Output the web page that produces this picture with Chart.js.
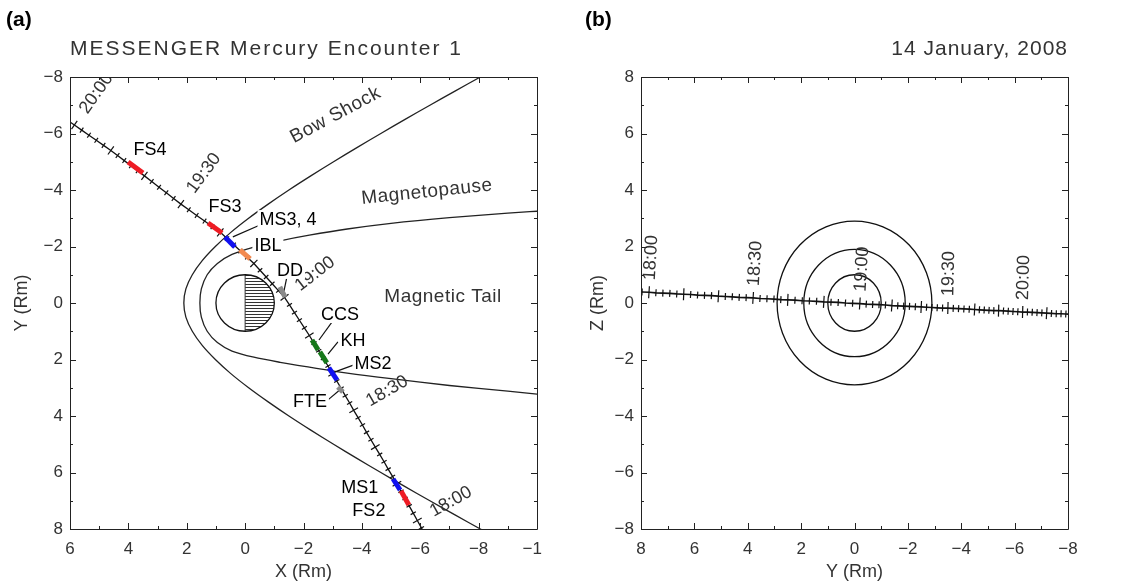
<!DOCTYPE html>
<html>
<head>
<meta charset="utf-8">
<script src="https://cdn.jsdelivr.net/npm/chart.js@4.4.1/dist/chart.umd.min.js"></script>
<style>
  html, body { margin: 0; padding: 0; background: #fff; }
  #wrap { position: relative; width: 1131px; height: 587px; overflow: hidden; }
  #cA { position: absolute; left: 0; top: 0; }
  #cB { position: absolute; left: 560px; top: 0; }
</style>
</head>
<body>
<div id="wrap">
  <canvas id="cA" width="542" height="587"></canvas>
  <canvas id="cB" width="571" height="587"></canvas>
</div>
<script>
/* globals Chart:false */
(function () {
    'use strict'

    // spacecraft position every 2 minutes (Rm)
    const times = ['17:56', '17:58',
        '18:00', '18:02', '18:04', '18:06', '18:08', '18:10', '18:12', '18:14', '18:16', '18:18',
        '18:20', '18:22', '18:24', '18:26', '18:28', '18:30', '18:32', '18:34', '18:36', '18:38',
        '18:40', '18:42', '18:44', '18:46', '18:48', '18:50', '18:52', '18:54', '18:56', '18:58',
        '19:00', '19:02', '19:04', '19:06', '19:08', '19:10', '19:12', '19:14', '19:16', '19:18',
        '19:20', '19:22', '19:24', '19:26', '19:28', '19:30', '19:32', '19:34', '19:36', '19:38',
        '19:40', '19:42', '19:44', '19:46', '19:48', '19:50', '19:52', '19:54', '19:56', '19:58',
        '20:00', '20:02', '20:04', '20:06', '20:08', '20:10', '20:12', '20:14', '20:16', '20:18',
        '20:20'];
    const trajX = [-6.18, -6.04,
        -5.90, -5.76, -5.62, -5.48, -5.34, -5.20, -5.05, -4.90, -4.76, -4.61,
        -4.46, -4.31, -4.16, -4.02, -3.87, -3.72, -3.58, -3.43, -3.29, -3.14,
        -3.00, -2.84, -2.68, -2.52, -2.36, -2.20, -2.03, -1.86, -1.69, -1.52,
        -1.35, -1.14, -0.93, -0.72, -0.51, -0.30, -0.07, 0.16, 0.39, 0.62,
        0.85, 1.12, 1.39, 1.66, 1.93, 2.20, 2.45, 2.70, 2.95, 3.20,
        3.45, 3.68, 3.91, 4.14, 4.37, 4.60, 4.85, 5.10, 5.35, 5.60,
        5.85, 6.10, 6.35, 6.60, 6.85, 7.10, 7.34, 7.58, 7.82, 8.06,
        8.30];
    const trajY = [8.22, 7.96,
        7.70, 7.44, 7.18, 6.92, 6.66, 6.40, 6.14, 5.88, 5.62, 5.36,
        5.10, 4.84, 4.58, 4.32, 4.06, 3.80, 3.54, 3.28, 3.02, 2.76,
        2.50, 2.23, 1.96, 1.69, 1.42, 1.15, 0.88, 0.61, 0.34, 0.07,
        -0.20, -0.44, -0.68, -0.92, -1.16, -1.40, -1.62, -1.84, -2.06, -2.28,
        -2.50, -2.70, -2.90, -3.10, -3.30, -3.50, -3.70, -3.90, -4.10, -4.30,
        -4.50, -4.68, -4.86, -5.04, -5.22, -5.40, -5.58, -5.76, -5.94, -6.12,
        -6.30, -6.48, -6.66, -6.84, -7.02, -7.20, -7.38, -7.56, -7.74, -7.92,
        -8.10];
    const trajZ = [0.40, 0.39,
        0.38, 0.36, 0.35, 0.34, 0.32, 0.31, 0.30, 0.28, 0.27, 0.26,
        0.24, 0.23, 0.22, 0.20, 0.19, 0.18, 0.16, 0.15, 0.14, 0.12,
        0.11, 0.10, 0.08, 0.07, 0.06, 0.04, 0.03, 0.02, 0.00, -0.01,
        -0.02, -0.04, -0.05, -0.06, -0.07, -0.09, -0.10, -0.11, -0.12, -0.13,
        -0.14, -0.15, -0.16, -0.17, -0.18, -0.18, -0.19, -0.20, -0.21, -0.22,
        -0.23, -0.24, -0.25, -0.26, -0.27, -0.27, -0.28, -0.29, -0.30, -0.31,
        -0.32, -0.32, -0.33, -0.34, -0.35, -0.36, -0.37, -0.38, -0.38, -0.39,
        -0.40];
    const timeLabels = ['18:00', '18:30', '19:00', '19:30', '20:00'];

    // model boundaries in the X-Y plane
    const bowX = [-8.93, -8.06, -7.19, -6.33, -5.48, -4.65, -3.83, -3.03, -2.25, -1.50,
        -0.79, -0.12, 0.49, 1.02, 1.47, 1.81, 2.03, 2.10, 2.03, 1.81, 1.47, 1.02, 0.49,
        -0.12, -0.79, -1.50, -2.25, -3.03, -3.83, -4.65, -5.48, -6.33, -7.19, -8.06, -8.93];
    const bowY = [-8.5, -8.0, -7.5, -7.0, -6.5, -6.0, -5.5, -5.0, -4.5, -4.0,
        -3.5, -3.0, -2.5, -2.0, -1.5, -1.0, -0.5, 0, 0.5, 1.0, 1.5, 2.0, 2.5,
        3.0, 3.5, 4.0, 4.5, 5.0, 5.5, 6.0, 6.5, 7.0, 7.5, 8.0, 8.5];
    const mpX = [-10.5, -9.0, -7.0, -5.0, -3.5, -2.2, -1.2, -0.3, 0.45, 0.95, 1.3, 1.5, 1.55,
        1.5, 1.3, 0.95, 0.45, -0.3, -1.2, -2.2, -3.5, -5.0, -7.0, -9.0, -10.5];
    const mpY = [-3.28, -3.18, -3.02, -2.82, -2.62, -2.40, -2.20, -1.98, -1.72, -1.40, -1.0, -0.5, 0,
        0.5, 1.0, 1.40, 1.70, 1.92, 2.10, 2.27, 2.48, 2.68, 2.92, 3.12, 3.28];
    const planetRadius = 1;
    const shellRadii = [1.0, 1.9, 2.9];

    // boundary / event intervals along the orbit
    const eventNames = ['FS2', 'MS1', 'FTE', 'MS2', 'KH', 'CCS', 'DD', 'IBL', 'MS3, 4', 'FS3', 'FS4'];
    const eventColors = ['#ee1c24', '#1010f0', '#8a8a8a', '#1010f0', '#16781a', '#16781a',
        '#8a8a8a', '#f28a50', '#1010f0', '#ee1c24', '#ee1c24'];
    const eventX0 = [-5.34, -5.07, -3.18, -2.87, -2.56, -2.29, -1.19, 0.18, 0.69, 1.27, 4.01];
    const eventY0 = [6.65, 6.23, 2.97, 2.30, 1.73, 1.31, -0.57, -1.88, -2.34, -2.83, -4.99];
    const eventX1 = [-5.61, -5.31, -3.35, -3.15, -2.80, -2.50, -1.37, -0.17, 0.35, 0.79, 3.50];
    const eventY1 = [7.15, 6.62, 3.15, 2.73, 2.12, 1.66, -0.21, -1.56, -1.98, -2.48, -4.60];
    const labelX = [-4.24, -3.93, -2.22, -4.38, -3.70, -3.25, -1.54, -0.78, -1.47, 0.69, 3.26];
    const labelY = [7.33, 6.51, 3.47, 2.12, 1.31, 0.39, -1.17, -2.05, -2.97, -3.43, -5.45];
    const leaderX0 = [null, null, -2.84, -3.73, -3.18, -2.98, -1.43, null, -0.51, null, null];
    const leaderY0 = [null, null, 3.43, 2.19, 1.38, 0.67, -0.92, null, -2.76, null, null];
    const leaderX1 = [null, null, -3.32, -3.15, -2.84, -2.53, -1.33, null, 0.42, null, null];
    const leaderY1 = [null, null, 3.01, 2.41, 1.81, 1.31, -0.42, null, -2.34, null, null];

    const regionNames = ['Bow Shock', 'Magnetopause', 'Magnetic Tail'];
    const regionX = [-3.1, -6.23, -6.78];
    const regionY = [-6.65, -3.93, -0.21];
    const regionRot = [-28, -6, 0];

    const FONT = '"Liberation Sans", Arial, sans-serif';
    const INK = '#333';
    Chart.defaults.font.family = FONT;
    Chart.defaults.color = INK;

    function pts(xs, ys) {
        return xs.map((v, i) => ({ x: v, y: ys[i] }));
    }
    function minus(v) {
        return v < 0 ? '\u2212' + Math.abs(v) : String(v);
    }
    function isMajor(t) {
        return t.slice(-1) === '0';
    }
    // screen direction of the orbit at point i (time increasing)
    function dir(chart, data, i) {
        const xs = chart.scales.x, ys = chart.scales.y;
        const a = data[Math.max(i - 1, 0)], b = data[Math.min(i + 1, data.length - 1)];
        const dx = xs.getPixelForValue(b.x) - xs.getPixelForValue(a.x);
        const dy = ys.getPixelForValue(b.y) - ys.getPixelForValue(a.y);
        const n = Math.hypot(dx, dy) || 1;
        return [dx / n, dy / n];
    }

    function orbitDataset(data, major, minor, width) {
        return {
            label: 'orbit',
            data: data,
            showLine: true,
            borderColor: '#111',
            borderWidth: width,
            pointStyle: 'line',
            pointBorderColor: '#111',
            pointBorderWidth: 1.2,
            pointRadius: ctx => isMajor(times[ctx.dataIndex]) ? major : minor,
            pointRotation: ctx => {
                const d = dir(ctx.chart, ctx.dataset.data, ctx.dataIndex);
                return Math.atan2(d[1], d[0]) * 180 / Math.PI + 90;
            },
            order: 2,
            clip: 0
        };
    }

    function axis(min, max, reverse, title, isX, size, titlePad) {
        return {
            type: 'linear', min: min, max: max, reverse: reverse,
            ticks: {
                stepSize: 2, callback: minus, autoSkip: false, maxRotation: 0,
                padding: isX ? 10 : 7, color: INK, font: { size: 17, family: FONT }
            },
            grid: { display: false, drawTicks: false },
            border: { display: false },
            title: {
                display: true, text: title, color: INK,
                font: { size: 18, family: FONT }, padding: titlePad
            },
            afterFit: s => {
                if (isX) s.height = size; else s.width = size;
                s.paddingLeft = 0; s.paddingRight = 0; s.paddingTop = 0; s.paddingBottom = 0;
            }
        };
    }

    // box, inward ticks on all four sides, headings
    const framePlugin = {
        id: 'frame',
        afterDraw(chart, args, opts) {
            const { ctx, chartArea: ca, scales: { x, y } } = chart;
            ctx.save();
            ctx.strokeStyle = '#222';
            ctx.lineWidth = 1;
            ctx.beginPath();
            ctx.rect(Math.round(ca.left) + 0.5, Math.round(ca.top) + 0.5,
                Math.round(ca.right - ca.left), Math.round(ca.bottom - ca.top));
            const xlo = Math.min(x.min, x.max), xhi = Math.max(x.min, x.max);
            for (let v = xlo; v <= xhi; v++) {
                const p = Math.round(x.getPixelForValue(v)) + 0.5;
                const len = v % 2 === 0 ? 6 : 3;
                ctx.moveTo(p, ca.bottom); ctx.lineTo(p, ca.bottom - len);
                ctx.moveTo(p, ca.top); ctx.lineTo(p, ca.top + len);
            }
            const ylo = Math.min(y.min, y.max), yhi = Math.max(y.min, y.max);
            for (let v = ylo; v <= yhi; v++) {
                const p = Math.round(y.getPixelForValue(v)) + 0.5;
                const len = v % 2 === 0 ? 6 : 3;
                ctx.moveTo(ca.left, p); ctx.lineTo(ca.left + len, p);
                ctx.moveTo(ca.right, p); ctx.lineTo(ca.right - len, p);
            }
            ctx.stroke();

            ctx.fillStyle = '#000';
            ctx.font = 'bold 21px Arial, "Liberation Sans", sans-serif';
            ctx.textAlign = 'left';
            ctx.textBaseline = 'middle';
            ctx.fillText(opts.panel, opts.panelX, 20);

            ctx.fillStyle = INK;
            ctx.font = '21px ' + FONT;
            ctx.letterSpacing = opts.spacing;
            ctx.textAlign = opts.titleAlign;
            ctx.fillText(opts.title, opts.titleAlign === 'left' ? ca.left : ca.right, 49);
            ctx.restore();
        }
    };

    // time tags beside the orbit, perpendicular to it
    const timeTagPlugin = {
        id: 'timeTags',
        afterDatasetsDraw(chart, args, opts) {
            const { ctx, chartArea: ca, scales: { x, y } } = chart;
            const data = chart.data.datasets.find(d => d.label === 'orbit').data;
            ctx.save();
            ctx.beginPath();
            ctx.rect(ca.left, ca.top, ca.right - ca.left, ca.bottom - ca.top);
            ctx.clip();
            ctx.font = '18px ' + FONT;
            ctx.fillStyle = INK;
            ctx.textAlign = 'left';
            ctx.textBaseline = 'middle';
            timeLabels.forEach(t => {
                const i = times.indexOf(t);
                const d = dir(chart, data, i);
                const nx = -d[1] * opts.sign, ny = d[0] * opts.sign;
                const px = x.getPixelForValue(data[i].x), py = y.getPixelForValue(data[i].y);
                ctx.save();
                ctx.translate(px + nx * opts.gap, py + ny * opts.gap);
                ctx.rotate(Math.atan2(ny, nx));
                ctx.fillText(t, 0, 0);
                ctx.restore();
            });
            ctx.restore();
        }
    };

    // Mercury with hatched night side
    const planetPlugin = {
        id: 'planet',
        beforeDatasetsDraw(chart) {
            const { ctx, scales: { x, y } } = chart;
            const cx = x.getPixelForValue(0), cy = y.getPixelForValue(0);
            const night = x.getPixelForValue(-planetRadius);
            const rx = Math.abs(night - cx);
            const ry = Math.abs(y.getPixelForValue(planetRadius) - cy);
            ctx.save();
            ctx.beginPath();
            ctx.ellipse(cx, cy, rx, ry, 0, 0, 2 * Math.PI);
            ctx.fillStyle = '#fff';
            ctx.fill();
            ctx.save();
            ctx.clip();
            ctx.strokeStyle = '#333';
            ctx.lineWidth = 1;
            ctx.beginPath();
            for (let yy = Math.round(cy - ry) + 0.5; yy <= cy + ry; yy += 3) {
                ctx.moveTo(cx, yy); ctx.lineTo(night, yy);
            }
            ctx.moveTo(cx, cy - ry); ctx.lineTo(cx, cy + ry);
            ctx.stroke();
            ctx.restore();
            ctx.beginPath();
            ctx.ellipse(cx, cy, rx, ry, 0, 0, 2 * Math.PI);
            ctx.strokeStyle = '#111';
            ctx.lineWidth = 1.3;
            ctx.stroke();
            ctx.restore();
        }
    };

    // event names with leaders, region names
    const notePlugin = {
        id: 'notes',
        afterDatasetsDraw(chart) {
            const { ctx, scales: { x, y } } = chart;
            ctx.save();
            ctx.fillStyle = INK;
            ctx.textBaseline = 'middle';
            ctx.textAlign = 'center';
            regionNames.forEach((t, i) => {
                ctx.save();
                ctx.translate(x.getPixelForValue(regionX[i]), y.getPixelForValue(regionY[i]));
                ctx.rotate(regionRot[i] * Math.PI / 180);
                ctx.font = '19px ' + FONT;
                ctx.letterSpacing = '0.5px';
                ctx.fillText(t, 0, 0);
                ctx.restore();
            });
            eventNames.forEach((t, i) => {
                const px = x.getPixelForValue(labelX[i]), py = y.getPixelForValue(labelY[i]);
                ctx.font = '18px Arial, ' + FONT;
                const w = ctx.measureText(t).width;
                ctx.fillStyle = '#fff';
                ctx.fillRect(px - w / 2 - 2, py - 9, w + 4, 18);
                ctx.fillStyle = '#000';
                ctx.fillText(t, px, py + 1);
            });
            ctx.restore();
        }
    };

    const dsA = [];
    eventNames.forEach((n, i) => {
        dsA.push({
            label: n,
            data: [{ x: eventX0[i], y: eventY0[i] }, { x: eventX1[i], y: eventY1[i] }],
            showLine: true, borderColor: eventColors[i], borderWidth: 5,
            borderCapStyle: 'butt', pointRadius: 0, order: 0, clip: 0
        });
        if (leaderX0[i] !== null) {
            dsA.push({
                label: n + ' leader',
                data: [{ x: leaderX0[i], y: leaderY0[i] }, { x: leaderX1[i], y: leaderY1[i] }],
                showLine: true, borderColor: '#111', borderWidth: 1.2,
                pointRadius: 0, order: 1, clip: 0
            });
        }
    });
    dsA.push(orbitDataset(pts(trajX, trajY), 5, 3, 1.3));
    dsA.push({
        label: 'Bow Shock', data: pts(bowX, bowY), showLine: true,
        borderColor: '#222', borderWidth: 1.3, tension: 0.3, pointRadius: 0, order: 3, clip: 0
    });
    dsA.push({
        label: 'Magnetopause', data: pts(mpX, mpY), showLine: true,
        borderColor: '#222', borderWidth: 1.3, tension: 0.3, pointRadius: 0, order: 3, clip: 0
    });

    new Chart(document.getElementById('cA'), {
        type: 'scatter',
        data: { datasets: dsA },
        options: {
            responsive: false,
            animation: false,
            events: [],
            layout: { padding: { left: 0, top: 77, right: 5, bottom: 0 }, autoPadding: false },
            elements: { line: { capBezierPoints: false } },
            scales: {
                x: axis(-10, 6, true, 'X (Rm)', true, 58, { top: 0, bottom: 4 }),
                y: axis(-8, 8, true, 'Y (Rm)', false, 70, { top: 11, bottom: 0 })
            },
            plugins: {
                legend: { display: false },
                tooltip: { enabled: false },
                frame: { panel: '(a)', panelX: 6, title: 'MESSENGER Mercury Encounter 1', titleAlign: 'left', spacing: '2px' },
                timeTags: { sign: 1, gap: 16 }
            }
        },
        plugins: [planetPlugin, framePlugin, timeTagPlugin, notePlugin]
    });

    // shells around Mercury in the Y-Z plane
    const shellPlugin = {
        id: 'shells',
        beforeDatasetsDraw(chart) {
            const { ctx, scales: { x, y } } = chart;
            const cx = x.getPixelForValue(0), cy = y.getPixelForValue(0);
            ctx.save();
            ctx.strokeStyle = '#111';
            ctx.lineWidth = 1.3;
            shellRadii.forEach(r => {
                const rx = Math.abs(x.getPixelForValue(r) - cx);
                const ry = Math.abs(y.getPixelForValue(r) - cy);
                ctx.beginPath();
                ctx.ellipse(cx, cy, rx, ry, 0, 0, 2 * Math.PI);
                ctx.stroke();
            });
            ctx.restore();
        }
    };

    new Chart(document.getElementById('cB'), {
        type: 'scatter',
        data: { datasets: [orbitDataset(pts(trajY, trajZ), 6, 3.5, 1.7)] },
        options: {
            responsive: false,
            animation: false,
            events: [],
            layout: { padding: { left: 0, top: 77, right: 63, bottom: 0 }, autoPadding: false },
            scales: {
                x: axis(-8, 8, true, 'Y (Rm)', true, 58, { top: 0, bottom: 4 }),
                y: axis(-8, 8, false, 'Z (Rm)', false, 81, { top: 27, bottom: 0 })
            },
            plugins: {
                legend: { display: false },
                tooltip: { enabled: false },
                frame: { panel: '(b)', panelX: 25, title: '14 January, 2008', titleAlign: 'right', spacing: '1px' },
                timeTags: { sign: -1, gap: 12 }
            }
        },
        plugins: [shellPlugin, framePlugin, timeTagPlugin]
    });
})()
</script>
</body>
</html>
